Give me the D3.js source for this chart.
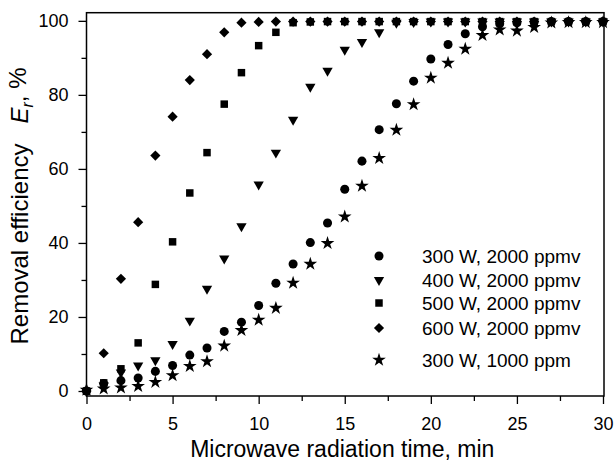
<!DOCTYPE html>
<html>
<head>
<meta charset="utf-8">
<script src="https://cdn.jsdelivr.net/npm/d3@7"></script>
<style>
  body { margin: 0; background: #fff; }
  svg text { font-family: "Liberation Sans", Arial, sans-serif; fill: #000; }
</style>
</head>
<body>
<div id="chart"></div>
<script>
// microwave radiation time, min
const timeMin = [0, 1, 2, 3, 4, 5, 6, 7, 8, 9, 10, 11, 12, 13, 14, 15, 16, 17, 18, 19, 20, 21, 22, 23, 24, 25, 26, 27, 28, 29, 30]

// removal efficiency Er, %
const er300 = [0, 2.0, 2.8, 3.5, 5.3, 6.9, 9.7, 11.6, 16.1, 18.6, 23.1, 29.1, 34.3, 40.1, 45.4, 54.5, 62.1, 70.6, 77.6, 83.7, 89.7, 93.6, 96.5, 98.4, 99.2, 99.5, 99.7, 99.8, 99.8, 99.8, 99.8]
const er400 = [0, 1.5, 5.0, 6.9, 8.3, 12.7, 19.0, 27.6, 35.8, 44.5, 55.8, 64.4, 73.3, 82.2, 86.5, 92.2, 94.3, 96.9, 99.5, 99.7, 99.8, 99.8, 99.8, 99.8, 99.8, 99.8, 99.8, 99.8, 99.8, 99.8, 99.8]
const er500 = [0, 2.2, 6.0, 13.0, 28.8, 40.3, 53.5, 64.4, 77.5, 86.0, 93.3, 96.9, 99.5, 99.7, 99.8, 99.8, 99.8, 99.8, 99.8, 99.8, 99.8, 99.8, 99.8, 99.8, 99.8, 99.8, 99.8, 99.8, 99.8, 99.8, 99.8]
const er600 = [0, 10.2, 30.3, 45.6, 63.6, 74.1, 84.0, 91.0, 96.9, 99.5, 99.7, 99.8, 99.8, 99.8, 99.8, 99.8, 99.8, 99.8, 99.8, 99.8, 99.8, 99.8, 99.8, 99.8, 99.8, 99.8, 99.8, 99.8, 99.8, 99.8, 99.8]
const er300low = [0.3, 0.6, 0.9, 1.3, 2.4, 4.2, 6.7, 8.0, 12.2, 16.4, 19.2, 22.4, 29.2, 34.3, 39.9, 47.1, 55.4, 62.9, 70.5, 77.4, 84.6, 88.6, 92.4, 96.1, 97.6, 97.3, 98.3, 99.5, 99.6, 99.6, 99.6]

const seriesLabels = ['300 W, 2000 ppmv', '400 W, 2000 ppmv', '500 W, 2000 ppmv', '600 W, 2000 ppmv', '300 W, 1000 ppm']

const xTicks = [0, 5, 10, 15, 20, 25, 30]
const xMinorTicks = [2.5, 7.5, 12.5, 17.5, 22.5, 27.5]
const yTicks = [0, 20, 40, 60, 80, 100]
const yMinorTicks = [10, 30, 50, 70, 90]

const width = 615
const height = 463
const plot = { left: 86.5, right: 604, top: 12.7, bottom: 396 }

const svg = d3.select('#chart')
    .append('svg')
    .attr('width', width)
    .attr('height', height)

const xScale = d3.scaleLinear()
    .domain([0, 30])
    .range([plot.left, plot.right - 1])
const yScale = d3.scaleLinear()
    .domain([-1.35, 102.2])
    .range([plot.bottom, plot.top])

// marker shapes: circle, down triangle, square, diamond, star
const shapes = [
    { type: d3.symbolCircle, size: 64, rotate: 0 },
    { type: d3.symbolTriangle, size: 46, rotate: 180 },
    { type: d3.symbolSquare, size: 56, rotate: 0 },
    { type: d3.symbolSquare, size: 52, rotate: 45 },
    { type: d3.symbolStar, size: 58, rotate: 0 }
]
const series = [er300, er400, er500, er600, er300low]

// axes
svg.append('g')
    .attr('class', 'axis axis-x')
    .attr('transform', `translate(0, ${plot.bottom})`)
    .call(d3.axisBottom(xScale).tickValues(xTicks).tickSize(8).tickPadding(13).tickSizeOuter(0))
svg.append('g')
    .attr('transform', `translate(0, ${plot.bottom})`)
    .call(d3.axisBottom(xScale).tickValues(xMinorTicks).tickSize(5).tickFormat('').tickSizeOuter(0))

svg.append('g')
    .attr('class', 'axis axis-y')
    .attr('transform', `translate(${plot.left}, 0)`)
    .call(d3.axisLeft(yScale).tickValues(yTicks).tickSize(8).tickPadding(10).tickSizeOuter(0))
svg.append('g')
    .attr('transform', `translate(${plot.left}, 0)`)
    .call(d3.axisLeft(yScale).tickValues(yMinorTicks).tickSize(5).tickFormat('').tickSizeOuter(0))

svg.selectAll('.domain').remove()
svg.selectAll('.tick line').attr('stroke', '#000').attr('stroke-width', 1.3)
svg.selectAll('.tick text')
    .style('font-size', '18px')
    .attr('fill', '#000')

// frame
svg.append('rect')
    .attr('x', plot.left)
    .attr('y', plot.top)
    .attr('width', plot.right - plot.left)
    .attr('height', plot.bottom - plot.top)
    .attr('fill', 'none')
    .attr('stroke', '#000')
    .attr('stroke-width', 1.5)

// points
const pointContainer = svg.append('g')
series.forEach((vals, i) => {
    const sh = shapes[i]
    pointContainer.append('g')
        .attr('class', 'series')
        .selectAll('path')
        .data(vals)
        .enter()
        .append('path')
        .attr('d', d3.symbol().type(sh.type).size(sh.size))
        .attr('transform', (d, j) => `translate(${xScale(timeMin[j])}, ${yScale(d)}) rotate(${sh.rotate})`)
        .attr('fill', '#000')
})

// legend
const legendRows = [256, 280, 303, 328, 360]
const legend = svg.append('g').attr('class', 'legend')
seriesLabels.forEach((label, i) => {
    const sh = shapes[i]
    legend.append('path')
        .attr('d', d3.symbol().type(sh.type).size(sh.size))
        .attr('transform', `translate(379, ${legendRows[i]}) rotate(${sh.rotate})`)
        .attr('fill', '#000')
    legend.append('text')
        .attr('x', 422)
        .attr('y', legendRows[i] + 7)
        .style('font-size', '19px')
        .text(label)
})

// axis titles
svg.append('text')
    .attr('text-anchor', 'middle')
    .attr('x', (plot.left + plot.right) / 2 - 3)
    .attr('y', 457)
    .style('font-size', '23px')
    .text('Microwave radiation time, min')

const yLabel = svg.append('text')
    .attr('text-anchor', 'middle')
    .attr('transform', `translate(28, 206) rotate(-90)`)
    .style('font-size', '24px')
yLabel.append('tspan').text('Removal efficiency\u00a0\u00a0\u00a0')
yLabel.append('tspan').style('font-style', 'italic').text('E')
yLabel.append('tspan').style('font-style', 'italic').style('font-size', '16px').attr('dy', '0.3em').text('r')
yLabel.append('tspan').attr('dy', '-0.3em').text(', %')
</script>
</body>
</html>
